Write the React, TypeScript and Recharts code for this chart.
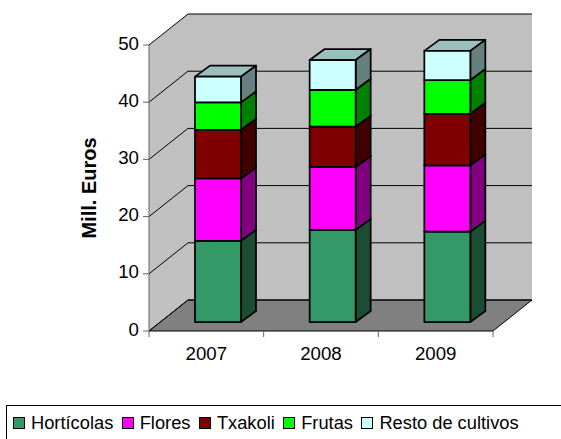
import React from 'react';
import { BarChart, Bar, XAxis, YAxis, Legend, usePlotArea } from 'recharts';

const years = ['2007', '2008', '2009'];
const seriesNames = ['Hortícolas', 'Flores', 'Txakoli', 'Frutas', 'Resto de cultivos'];
const horticolas = [14.2, 16.1, 15.8];
const flores = [10.9, 11.0, 11.6];
const txakoli = [8.5, 7.05, 9.0];
const frutas = [4.8, 6.45, 5.9];
const resto = [4.5, 5.2, 5.1];
const yTicks = [0, 10, 20, 30, 40, 50];

const seriesValues = [horticolas, flores, txakoli, frutas, resto];
const frontColors = ['#339966', '#FF00FF', '#800000', '#00FF00', '#CCFFFF'];
const sideColors = ['#1A4D33', '#800080', '#400000', '#008000', '#668080'];
const topColors = ['#2A7F55', '#D400D4', '#6A0000', '#00D400', '#99BFBF'];

const data = years.map((year, i) => {
  const row: Record<string, string | number> = { year };
  seriesNames.forEach((name, s) => {
    row[name] = seriesValues[s][i];
  });
  return row;
});

const FONT = 'Arial, "Liberation Sans", sans-serif';
const AXIS_SIZE = 18.67;
const LEGEND_SIZE = 18.3;

// depth of the fake 3D box
const WALL_DX = 39;
const WALL_DY = 31;
const BAR_DX = 15;
const BAR_DY = 11;
// bars stand in the middle of the floor, not on the front edge
const BAR_SHIFT_X = 12;
const BAR_SHIFT_Y = -9;

const Walls = () => {
  const plot = usePlotArea();
  if (!plot) return null;
  const { x, y, width, height } = plot;
  const bottom = y + height;
  const right = x + width;
  const yOf = (t: number) => bottom - (t / 50) * height;
  const pts = (p: number[][]) => p.map((q) => q.join(',')).join(' ');
  return (
    <g>
      <polygon
        points={pts([[x, y], [x + WALL_DX, y - WALL_DY], [right + WALL_DX, y - WALL_DY], [right + WALL_DX, bottom - WALL_DY], [x + WALL_DX, bottom - WALL_DY], [x, bottom]])}
        fill="#C0C0C0"
      />
      <polygon
        points={pts([[x, bottom], [x + WALL_DX, bottom - WALL_DY], [right + WALL_DX, bottom - WALL_DY], [right, bottom]])}
        fill="#808080"
        stroke="#000"
        strokeWidth={1}
      />
      {yTicks.map((t) => (
        <polyline
          key={t}
          points={pts([[x, yOf(t)], [x + WALL_DX, yOf(t) - WALL_DY], [right + WALL_DX, yOf(t) - WALL_DY]])}
          fill="none"
          stroke="#000"
          strokeWidth={1}
        />
      ))}
      <line x1={x} y1={y} x2={x} y2={bottom} stroke="#666" strokeWidth={1} />
      {yTicks.map((t) => (
        <line key={t} x1={x - 6} y1={yOf(t)} x2={x} y2={yOf(t)} stroke="#666" strokeWidth={1} />
      ))}
      {[0, 1, 2, 3].map((i) => {
        const tx = x + (i * width) / years.length;
        return <line key={i} x1={tx} y1={bottom} x2={tx} y2={bottom + 6} stroke="#666" strokeWidth={1} />;
      })}
    </g>
  );
};

const Box3D = (props: any) => {
  const { x, y, width, height, index, seriesIndex } = props;
  if (height == null) return null;
  const l = x + BAR_SHIFT_X;
  const t = y + BAR_SHIFT_Y;
  const r = l + width;
  const b = t + height;
  const stroke = { stroke: '#000', strokeWidth: 1.75, strokeLinejoin: 'round' as const };
  return (
    <g key={index}>
      <polygon
        points={`${l},${t} ${l + BAR_DX},${t - BAR_DY} ${r + BAR_DX},${t - BAR_DY} ${r},${t}`}
        fill={topColors[seriesIndex]}
        {...stroke}
      />
      <polygon
        points={`${r},${t} ${r + BAR_DX},${t - BAR_DY} ${r + BAR_DX},${b - BAR_DY} ${r},${b}`}
        fill={sideColors[seriesIndex]}
        {...stroke}
      />
      <rect x={l} y={t} width={width} height={height} fill={frontColors[seriesIndex]} {...stroke} />
    </g>
  );
};

const LegendBox = () => (
  <div
    style={{
      boxSizing: 'border-box',
      width: 600,
      height: 60,
      border: '1px solid #000',
      paddingLeft: 6,
      paddingTop: 2,
      display: 'flex',
      alignItems: 'flex-start',
      fontFamily: FONT,
      fontSize: LEGEND_SIZE,
      lineHeight: '30px',
      color: '#000',
      whiteSpace: 'nowrap',
      background: '#fff',
    }}
  >
    {seriesNames.map((name, i) => (
      <span key={name} style={{ display: 'flex', alignItems: 'center', marginRight: 8.4 }}>
        <span
          style={{
            display: 'inline-block',
            boxSizing: 'border-box',
            width: 12,
            height: 12,
            border: '1.5px solid #000',
            background: frontColors[i],
            marginRight: 6,
          }}
        />
        {name}
      </span>
    ))}
  </div>
);

export default function App() {
  return (
    <div style={{ position: 'absolute', left: 0, top: 0, width: 561, height: 439, overflow: 'hidden', background: '#fff' }}>
      <BarChart
        width={561}
        height={439}
        data={data}
        barCategoryGap="30%"
        margin={{ top: 45, right: 68, bottom: 48, left: 49 }}
      >
        <Walls />
        <XAxis
          dataKey="year"
          height={60}
          axisLine={false}
          tickLine={false}
          tick={{ fill: '#000', fontSize: AXIS_SIZE, fontFamily: FONT, dy: 5 }}
          tickMargin={5}
        />
        <YAxis
          width={100}
          domain={[0, 50]}
          ticks={yTicks}
          axisLine={false}
          tickLine={false}
          tickMargin={4}
          tick={{ fill: '#000', fontSize: AXIS_SIZE, fontFamily: FONT, dy: -2 }}
          label={{
            value: 'Mill. Euros',
            angle: -90,
            position: 'insideLeft',
            offset: 40,
            style: { textAnchor: 'middle', fontSize: 20, fontWeight: 'bold', fontFamily: FONT, fill: '#000' },
          }}
        />
        {seriesNames.map((name, s) => (
          <Bar
            key={name}
            dataKey={name}
            stackId="a"
            barSize={46}
            isAnimationActive={false}
            shape={(p: any) => <Box3D {...p} seriesIndex={s} />}
          />
        ))}
        <Legend
          layout="horizontal"
          verticalAlign="middle"
          align="center"
          content={<LegendBox />}
          wrapperStyle={{ position: 'absolute', left: 6, top: 405, width: 600, bottom: 'auto', right: 'auto' }}
        />
      </BarChart>
    </div>
  );
}
